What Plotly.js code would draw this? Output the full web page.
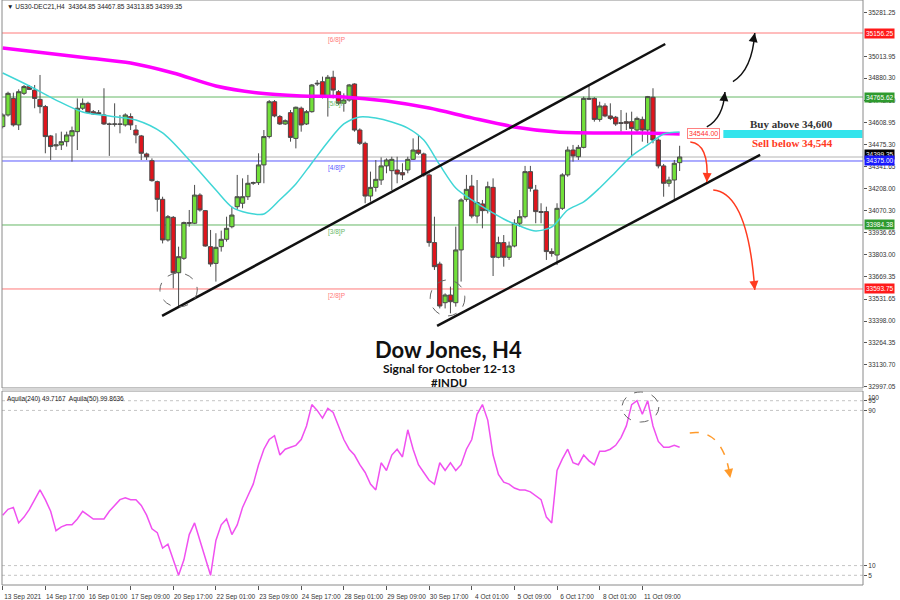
<!DOCTYPE html>
<html>
<head>
<meta charset="utf-8">
<script src="https://cdn.plot.ly/plotly-3.0.1.min.js"></script>
<style>html,body{margin:0;padding:0;background:#fff;}#chart{width:900px;height:600px;}</style>
</head>
<body>
<div id="chart"></div>
<script>
// ---------- DATA ----------
const xTickBars = [0,8,16,24,32,40,48,56,64,72,80,88,96,104,112,120];
const xTickLabels = ['13 Sep 2021','14 Sep 17:00','16 Sep 01:00','17 Sep 09:00','20 Sep 17:00','22 Sep 01:00','23 Sep 09:00','24 Sep 17:00','28 Sep 01:00','29 Sep 09:00','30 Sep 17:00','4 Oct 01:00','5 Oct 09:00','6 Oct 17:00','8 Oct 01:00','11 Oct 09:00'];

const open = [
34585,34656,34757,34595,34788,34829,34808,34751,34707,34528,
34467,34473,34493,34528,34554,34697,34727,34676,34670,34656,
34601,34599,34601,34595,34646,34564,34528,34418,34377,34249,
34141,33893,34031,33693,33781,33999,33995,34167,34072,33852,
33750,33852,33897,33974,34096,34117,34157,34239,34243,34351,
34524,34737,34646,34601,34670,34513,34697,34601,34676,34845,
34859,34764,34886,34798,34727,34747,34845,34564,34483,34161,
34214,34259,34345,34316,34320,34304,34320,34385,34442,34418,
34290,33877,33746,33510,33557,33510,33832,34141,34222,34039,
34113,34072,34214,33787,33877,33787,33856,33995,34035,34310,
34198,34066,34066,33822,33801,34086,34290,34442,34401,34458,
34757,34757,34629,34711,34650,34642,34609,34615,34615,34564,
34629,34564,34764,34503,34345,34239,34259,34364.85];
const high = [
34666,34798,34792,34812,34839,34839,34839,34900,34717,34534,
34544,34554,34554,34585,34757,34757,34737,34686,34686,34819,
34609,34727,34656,34666,34666,34595,34534,34426,34391,34255,
34157,34045,34039,33852,34005,34076,34229,34178,34076,33954,
33934,33950,34035,34096,34290,34269,34290,34249,34422,34564,
34747,34747,34656,34629,34686,34707,34707,34686,34845,34869,
34890,34900,34926,34808,34788,34845,34849,34574,34493,34310,
34381,34397,34391,34401,34401,34361,34401,34513,34534,34426,
34300,34035,33760,33567,33608,33974,34147,34290,34290,34259,
34137,34249,34269,33913,33923,33883,34019,34076,34345,34345,
34229,34117,34096,33842,34117,34300,34463,34473,34473,34768,
34839,34764,34737,34727,34727,34650,34686,34670,34676,34646,
34646,34772,34819,34513,34357,34279,34381,34467.85];
const low = [
34574,34646,34585,34564,34778,34808,34697,34666,34422,34381,
34442,34442,34463,34371,34442,34686,34666,34656,34656,34595,
34406,34585,34544,34585,34564,34483,34381,34381,34249,34066,
33872,33883,33598,33486,33771,33974,33990,34066,33852,33730,
33639,33822,33883,33964,34076,34086,34137,34229,34229,34239,
34513,34642,34595,34595,34493,34452,34554,34595,34670,34833,
34757,34646,34757,34717,34676,34737,34554,34473,34117,34127,
34188,34229,34300,34198,34239,34259,34300,34381,34412,34279,
33852,33710,33475,33475,33445,33486,33639,34127,34025,33995,
33964,34055,33673,33781,33730,33771,33848,33974,34025,34188,
33995,33995,33771,33791,33740,34076,34279,34371,34381,34452,
34747,34615,34615,34642,34625,34589,34554,34564,34401,34544,
34493,34483,34483,34330,34157,34218,34137,34313.85];
const close = [
34656,34788,34595,34798,34829,34812,34757,34707,34524,34463,
34473,34493,34534,34560,34697,34727,34670,34662,34662,34601,
34599,34601,34599,34656,34595,34534,34422,34401,34255,34141,
33893,34035,33693,33791,33999,33995,34167,34076,33856,33746,
33848,33897,33964,34045,34157,34157,34239,34243,34351,34524,
34737,34650,34601,34621,34519,34703,34595,34676,34839,34849,
34764,34886,34808,34727,34747,34839,34564,34483,34161,34214,
34263,34345,34381,34385,34296,34290,34385,34442,34422,34290,
33877,33730,33490,33557,33516,33832,34137,34202,34039,34121,
34072,34218,33787,33877,33787,33856,33995,34035,34310,34208,
34066,34062,33822,33811,34086,34290,34442,34406,34458,34757,
34753,34629,34711,34650,34635,34601,34605,34605,34574,34635,
34564,34768,34503,34345,34239,34259,34361,34399.35];

// slow MA (magenta) read at sampled bars
const maSlowBars = [0,8,16,24,32,40,48,56,64,72,80,88,96,104,112,120,127];
const maSlow = [35065,35034,35004,34973,34912,34833,34790,34772,34766,34741,34698,34638,34583,34552,34546,34546,34540];
// fast MA (cyan) read at sampled bars
const maFastBars = [0,5,10,15,20,25,30,35,40,43,46,49,52,55,58,61,64,67,70,73,76,79,82,85,88,91,94,97,100,103,106,109,112,115,118,121,124,127];
const maFast = [34912,34833,34747,34674,34650,34625,34546,34381,34198,34094,34058,34051,34138,34235,34363,34491,34601,34644,34637,34613,34576,34503,34351,34210,34137,34076,34021,33978,33948,33972,34076,34125,34210,34308,34406,34473,34540,34552];

// Aquila(50) oscillator
const aquila = [
36,39,40,32,35,39,44,49,44,38,28,30,31,31,34,38,36,34,34,34,
38,41,44,45,44,44,41,36,29,27,19,21,13,5,13,26,32,23,15,5,
23,31,34,26,31,40,46,52,62,70,75,77,67,70,71,72,75,82,93,90,
86,91,89,82,75,70,67,62,58,52,49,63,59,67,70,66,80,70,62,58,
54,52,63,59,63,59,62,70,75,88,93,85,67,57,53,52,50,49,49,48,
46,44,35,32,59,65,70,63,62,67,64,62,69,69,70,72,76,82,93,95,
88,95,82,74,71,71,72,71];

// price axis labels
const priceTicks = [35281.25,35013.95,34880.30,34742.60,34608.95,34475.30,34341.65,34208.00,34070.30,33936.65,33803.00,33669.35,33531.65,33398.00,33264.35,33130.70,32997.05];
const oscTicks = [95,90,10,5];
const oscTopLabel = 100;

// Murrey math levels
const mmLevels = [35156.25,34765.62,34375.00,33984.38,33593.75];
const mmNames = ['[6/8]P','[5/8]P','[4/8]P','[3/8]P','[2/8]P'];
const mmColors = ['#ff7a7a','#66b866','#5a5aff','#66b866','#ff7a7a'];
const mmBoxColors = ['#ff1a1a','#2e9a2e','#1a1aff','#2e9a2e','#ff1a1a'];
const lastPrice = 34399.35;
const signalLevel = 34544.00;

// trend lines [barStart, priceStart, barEnd, priceEnd]
const trend1 = [29.9, 33429, 124.3, 35089];
const trend2 = [81.5, 33368, 142.1, 34412];

// ---------- CHART ----------
const bars = open.map((_, i) => i);
const priceRange = [32989.5, 35357.7];
const xRange = [-0.13, 161.4];

const traces = [
  {type:'scatter', mode:'lines', x:maSlowBars, y:maSlow, line:{color:'#ff00ff', width:3.5, shape:'spline', smoothing:0.8}, xaxis:'x', yaxis:'y', hoverinfo:'skip'},
  {type:'scatter', mode:'lines', x:maFastBars, y:maFast, line:{color:'#40d6d6', width:1.5, shape:'spline', smoothing:0.8}, xaxis:'x', yaxis:'y', hoverinfo:'skip'},
  {type:'candlestick', x:bars, open:open, high:high, low:low, close:close,
   increasing:{line:{color:'#4a4a4a', width:1}, fillcolor:'#72e03a'},
   decreasing:{line:{color:'#4a4a4a', width:1}, fillcolor:'#e0141c'},
   whiskerwidth:0, xaxis:'x', yaxis:'y', hoverinfo:'skip'},
  {type:'scatter', mode:'lines', x:bars, y:aquila, line:{color:'#f050f0', width:1.5}, xaxis:'x', yaxis:'y2', hoverinfo:'skip'}
];

const shapes = [];
const annotations = [];
const mainDom = [0.3368, 1];
const oscDom = [0, 0.3316];

// Murrey lines + labels + axis boxes
mmLevels.forEach((lv, k) => {
  shapes.push({type:'line', xref:'paper', x0:0, x1:1, yref:'y', y0:lv, y1:lv, line:{color:mmColors[k], width:1}, layer:'below'});
  annotations.push({xref:'x', x:62.6, yref:'y', y:lv, yanchor:'top', yshift:-1, text:mmNames[k], showarrow:false, font:{family:'Liberation Sans', size:6.5, color:mmColors[k]}});
});
// current price line
shapes.push({type:'line', xref:'paper', x0:0, x1:1, yref:'y', y0:lastPrice, y1:lastPrice, line:{color:'#b4b4b4', width:1}, layer:'below'});

// trend lines
[trend1, trend2].forEach(t => shapes.push({type:'line', xref:'x', yref:'y', x0:t[0], y0:t[1], x1:t[2], y1:t[3], line:{color:'#111', width:2.5}}));

// dashed circles
shapes.push({type:'circle', xref:'x', yref:'y', x0:29.5, x1:36.5, y0:33484, y1:33691, line:{color:'#666', width:1, dash:'dash'}});
shapes.push({type:'circle', xref:'x', yref:'y', x0:80.2, x1:86.7, y0:33429, y1:33649, line:{color:'#666', width:1, dash:'dash'}});
shapes.push({type:'circle', xref:'x', yref:'y2', x0:116.2, x1:123.1, y0:84, y1:99.5, line:{color:'#666', width:1, dash:'dash'}});

// cyan signal bar
shapes.push({type:'line', xref:'x', yref:'y', x0:135.2, x1:161.3, y0:34540, y1:34540, line:{color:'#33e4ec', width:8}});

// curved arrows
const curves = [
  {p:'M 132.1 34583 Q 135.2 34638 135.5 34796', c:'#111', d:'solid', ref:'y'},
  {p:'M 137.0 34860 Q 140.6 34930 141.1 35156', c:'#111', d:'solid', ref:'y'},
  {p:'M 129.0 34491 Q 132.6 34480 132.1 34247', c:'#ff3b1f', d:'solid', ref:'y'},
  {p:'M 133.3 34198 Q 139.8 34180 141.1 33588', c:'#ff3b1f', d:'solid', ref:'y'},
  {p:'M 128.9 78.4 Q 135.2 81 136.5 55.2', c:'#ff9a2a', d:'dash', ref:'y2'}
];
curves.forEach(cv => shapes.push({type:'path', xref:'x', yref:cv.ref, path:cv.p, line:{color:cv.c, width:1.5, dash:cv.d}}));
const heads = [
  {x:135.5, y:34796, ax:-1, ay:8, c:'#111', ref:'y'},
  {x:141.1, y:35156, ax:-1.5, ay:8, c:'#111', ref:'y'},
  {x:132.1, y:34247, ax:0.3, ay:-8, c:'#ff3b1f', ref:'y'},
  {x:141.1, y:33588, ax:-0.8, ay:-8, c:'#ff3b1f', ref:'y'},
  {x:136.5, y:55.2, ax:-1.5, ay:-8, c:'#ff9a2a', ref:'y2'}
];
heads.forEach(h => annotations.push({xref:'x', yref:h.ref, x:h.x, y:h.y, ax:h.ax, ay:h.ay, text:'', showarrow:true, arrowhead:2, arrowsize:1.2, arrowwidth:1.5, arrowcolor:h.c, standoff:0}));

// panel frames
shapes.push({type:'rect', xref:'paper', yref:'paper', x0:0, x1:1, y0:mainDom[0], y1:1, line:{color:'#8a8a8a', width:1}});
shapes.push({type:'rect', xref:'paper', yref:'paper', x0:0, x1:1, y0:oscDom[0], y1:oscDom[1], line:{color:'#8a8a8a', width:1}});
shapes.push({type:'rect', xref:'paper', yref:'paper', x0:0, x1:1, y0:oscDom[1], y1:mainDom[0], line:{width:0}, fillcolor:'#d8d8d8'});

// oscillator dotted levels
[95,90,10,5].forEach(v => shapes.push({type:'line', xref:'paper', x0:0, x1:1, yref:'y2', y0:v, y1:v, line:{color:'#c4c4c4', width:1, dash:'dot'}, layer:'below'}));

// axis value boxes
annotations.push({xref:'paper', x:1, xanchor:'left', xshift:1, yref:'y', y:lastPrice, yshift:3, text:'34399.35', showarrow:false, bgcolor:'#000', font:{family:'Liberation Sans', size:6.5, color:'#fff'}, borderpad:1});
mmLevels.forEach((lv, k) => annotations.push({xref:'paper', x:1, xanchor:'left', xshift:1, yref:'y', y:lv, text:lv.toFixed(2), showarrow:false, bgcolor:mmBoxColors[k], font:{family:'Liberation Sans', size:6.5, color:'#fff'}, borderpad:1}));
// oscillator top label (drawn just inside the panel top, as in the reference)
annotations.push({xref:'paper', x:1, xanchor:'left', xshift:3, yref:'y2', y:oscTopLabel, yanchor:'top', yshift:-1, text:String(oscTopLabel), showarrow:false, font:{family:'Liberation Sans', size:6.5, color:'#333'}});

// signal label
annotations.push({xref:'x', yref:'y', x:131.4, y:signalLevel, text:signalLevel.toFixed(2), showarrow:false, bgcolor:'#fff', bordercolor:'#ff8080', borderwidth:1, borderpad:1, font:{family:'Liberation Sans', size:7, color:'#ff3030'}});
annotations.push({xref:'x', yref:'y', x:147.9, y:34601, text:'Buy above 34,600', showarrow:false, font:{family:'Liberation Serif', size:11, color:'#333', weight:'bold'}});
annotations.push({xref:'x', yref:'y', x:148.2, y:34485, text:'Sell below 34,544', showarrow:false, font:{family:'Liberation Serif', size:11, color:'#ff3b1f', weight:'bold'}});

// titles
annotations.push({xref:'paper', yref:'paper', x:0.519, y:0.403, text:'Dow Jones, H4', showarrow:false, font:{family:'Lato', size:22, color:'#111', weight:'bold'}});
annotations.push({xref:'paper', yref:'paper', x:0.519, y:0.370, text:'Signal for October 12-13', showarrow:false, font:{family:'Lato', size:12, color:'#111', weight:'bold'}});
annotations.push({xref:'paper', yref:'paper', x:0.519, y:0.347, text:'#INDU', showarrow:false, font:{family:'Lato', size:11.5, color:'#111', weight:'bold'}});

// header labels
annotations.push({xref:'paper', yref:'paper', x:0.004, y:1, xanchor:'left', yanchor:'top', yshift:-1, text:'\u25BC US30-DEC21,H4  34364.85 34467.85 34313.85 34399.35', showarrow:false, font:{family:'Liberation Sans', size:6.5, color:'#222'}});
annotations.push({xref:'paper', yref:'paper', x:0.004, y:oscDom[1], xanchor:'left', yanchor:'top', yshift:-2, text:'Aquila(240) 49.7167  Aquila(50) 99.8636', showarrow:false, font:{family:'Liberation Sans', size:6.5, color:'#222'}});

const tickFont = {family:'Liberation Sans', size:6.5, color:'#333'};
const layout = {
  width:900, height:600,
  margin:{l:2, r:37, t:0, b:15},
  paper_bgcolor:'#fff', plot_bgcolor:'#fff',
  showlegend:false,
  boxgap:0.2, boxgroupgap:0,
  xaxis:{range:xRange, anchor:'y2', tickvals:xTickBars, ticktext:xTickLabels, ticks:'outside', ticklen:4, tickcolor:'#555',
         tickfont:tickFont, ticklabelshift:20, ticklabelstandoff:1, showgrid:false, zeroline:false, showline:false, rangeslider:{visible:false}, fixedrange:true},
  yaxis:{domain:mainDom, range:priceRange, side:'right', tickvals:priceTicks, ticktext:priceTicks.map(v=>v.toFixed(2)), ticks:'outside', ticklen:3, tickcolor:'#555',
         tickfont:tickFont, showgrid:false, zeroline:false, showline:false, fixedrange:true},
  yaxis2:{domain:oscDom, range:[0,100], side:'right', anchor:'x', tickvals:oscTicks, ticks:'outside', ticklen:3, tickcolor:'#555', tickfont:tickFont,
          showgrid:false, zeroline:false, showline:false, fixedrange:true},
  shapes:shapes,
  annotations:annotations
};

Plotly.newPlot('chart', traces, layout, {displayModeBar:false, staticPlot:true});
</script>
</body>
</html>
